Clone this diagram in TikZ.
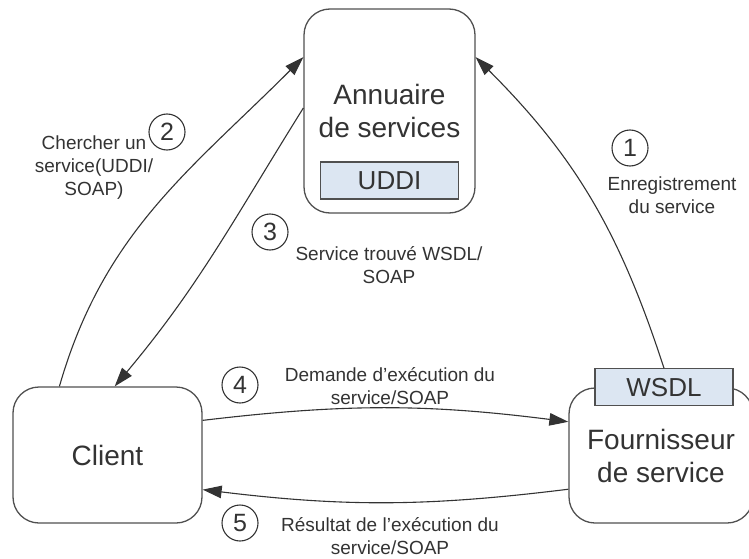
\documentclass[tikz,border=0pt]{standalone}
\usepackage{fontspec}
\setmainfont{Liberation Sans}
\usetikzlibrary{arrows.meta,positioning}
\definecolor{txtgray}{HTML}{333333}
\definecolor{linegray}{HTML}{505050}
\definecolor{tagblue}{HTML}{DCE6F2}
\tikzset{
  box/.style={draw=linegray, line width=1.3pt, rounded corners=26pt, align=center,
    text=txtgray, font=\fontsize{28}{33}\selectfont},
  tag/.style={draw=linegray, line width=1.2pt, fill=tagblue, text=txtgray,
    font=\fontsize{26}{30}\selectfont, minimum width=138pt, minimum height=37pt, inner sep=0pt},
  num/.style={circle, draw=txtgray, line width=1.1pt, minimum size=36pt, inner sep=0pt,
    text=txtgray, font=\fontsize{25}{25}\selectfont},
  lbl/.style={align=center, text=txtgray, font=\fontsize{19}{23}\selectfont},
  flow/.style={draw=txtgray, line width=1.1pt, -{Triangle[length=19pt,width=12.5pt]}}
}
\begin{document}
\begin{tikzpicture}[x=1pt,y=-1pt]
	  \useasboundingbox (0,0) rectangle (749,559);
	  % Define nodes
	  \node[box, minimum width=171pt, minimum height=204pt] (A) at (389.5,111) {Annuaire\\de services};
	  \node[tag, above=14pt of A.south] (U) {UDDI};
	  \node[box, minimum width=189pt, minimum height=136pt] (C) at (107.5,455) {Client};
	  \node[box, minimum width=184pt, minimum height=135pt] (F) at (661,455.5) {Fournisseur\\de service};
	  \node[tag, xshift=3pt] (W) at (F.north) {WSDL};

	  % Connect the nodes
	  \draw[flow] (W.north) to[out=108,in=-45] (A.32);
	  \draw[flow] (C.125) to[out=74,in=-135] (A.148);
	  \draw[flow] (A.178) to[out=-122,in=50] (C.84);
	  \draw[flow] (C.20) to[bend left=7] (F.160);
	  \draw[flow] (F.200) to[bend left=7] (C.-20);

	  % Steps
	  \node[num] (n1) at (630,148) {1};
	  \node[num] (n2) at (167,132) {2};
	  \node[num] (n3) at (270,232) {3};
	  \node[num] (n4) at (240,385) {4};
	  \node[num] (n5) at (240,523) {5};
	  \node[lbl] (t1) at (672,195.5) {Enregistrement\\du service};
	  \node[lbl] (t2) at (94,167.5) {Chercher un\\service(UDDI/\\SOAP)};
	  \node[lbl] (t3) at (389,265) {Service trouvé WSDL/\\SOAP};
	  \node[lbl] (t4) at (390,386.5) {Demande d’exécution du\\service/SOAP};
	  \node[lbl] (t5) at (390,536.5) {Résultat de l’exécution du\\service/SOAP};
	\end{tikzpicture}
\end{document}
